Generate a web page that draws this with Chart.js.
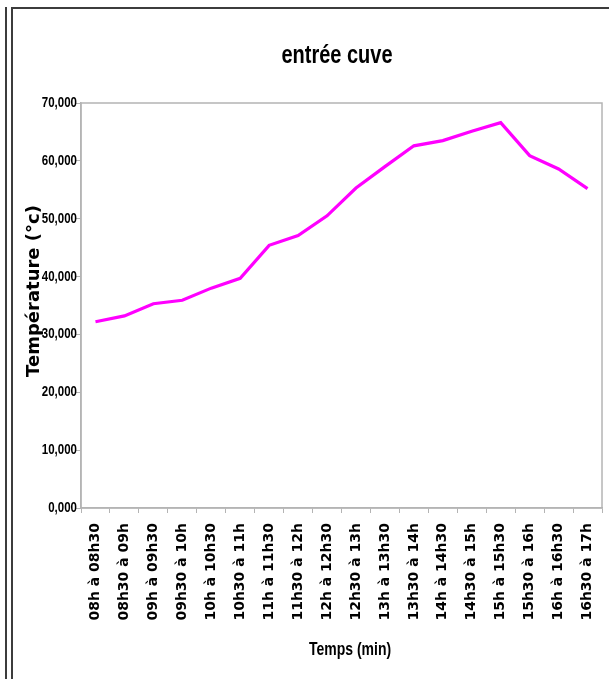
<!DOCTYPE html>
<html lang="fr">
<head>
<meta charset="utf-8">
<title>entrée cuve</title>
<script src="https://cdn.jsdelivr.net/npm/chart.js@4.4.1/dist/chart.umd.min.js"></script>
<style>
  html, body { margin: 0; padding: 0; background: #fff; }
  #wrap { width: 609px; height: 679px; position: relative; }
</style>
</head>
<body>
<div id="wrap"><canvas id="cuveChart" width="609" height="679"></canvas></div>
<script>
// tranches horaires (axe X)
const tranches = [
  '08h à 08h30', '08h30 à 09h', '09h à 09h30', '09h30 à 10h',
  '10h à 10h30', '10h30 à 11h', '11h à 11h30', '11h30 à 12h',
  '12h à 12h30', '12h30 à 13h', '13h à 13h30', '13h30 à 14h',
  '14h à 14h30', '14h30 à 15h', '15h à 15h30', '15h30 à 16h',
  '16h à 16h30', '16h30 à 17h'
];

// température en entrée de cuve (°c)
const temperatures = [
  32.2, 33.2, 35.3, 35.9, 38.0, 39.7, 45.4, 47.1, 50.5,
  55.3, 59.0, 62.6, 63.5, 65.1, 66.6, 60.9, 58.6, 55.2
];

// graduations de l'axe Y
const yTicks = [0, 10, 20, 30, 40, 50, 60, 70];
const yTickLabels = ['0,000', '10,000', '20,000', '30,000', '40,000', '50,000', '60,000', '70,000'];

const titre = 'entrée cuve';
const titreX = 'Temps (min)';
const titreY = 'Température (°c)';

const sans = "'Liberation Sans', Arial, sans-serif";
const wide = "'DejaVu Sans', 'Liberation Sans', Arial, sans-serif";
const axisGrey = '#b4b4b4';

// texte étiré verticalement (police haute et étroite)
function tallText(c, text, x, y, size, align, baseline) {
  c.save();
  c.font = 'bold ' + size + 'px ' + sans;
  c.fillStyle = '#000';
  c.textAlign = align;
  c.textBaseline = baseline;
  c.translate(x, y);
  c.scale(1, 1.25);
  c.fillText(text, 0, 0);
  c.restore();
}

// cadre de la page, bordure de la zone de tracé, titres et graduations Y
const framePlugin = {
  id: 'frame',
  beforeDraw(chart) {
    const c = chart.ctx;
    c.save();
    c.fillStyle = '#fff';
    c.fillRect(0, 0, chart.width, chart.height);
    c.fillStyle = '#3c3c3c';
    c.fillRect(5, 7, 2, chart.height - 7);
    c.fillRect(11, 7, 2, chart.height - 7);
    c.fillRect(11, 7, chart.width - 11, 2);
    c.restore();
  },
  beforeDatasetsDraw(chart) {
    const a = chart.chartArea;
    const c = chart.ctx;
    c.save();
    c.strokeStyle = axisGrey;
    c.lineWidth = 1.5;
    c.strokeRect(a.left, a.top, a.right - a.left, a.bottom - a.top);
    c.restore();
  },
  afterDraw(chart) {
    const c = chart.ctx;
    const y = chart.scales.y;
    tallText(c, titre, 337, 63, 20, 'center', 'alphabetic');
    tallText(c, titreX, 350, 655, 14, 'center', 'alphabetic');
    yTicks.forEach((v, i) => {
      tallText(c, yTickLabels[i], y.right - 4, y.getPixelForValue(v), 11.5, 'right', 'middle');
    });
    c.save();
    c.font = 'bold 18px ' + wide;
    c.fillStyle = '#000';
    c.textAlign = 'center';
    c.textBaseline = 'alphabetic';
    c.translate(39, 291);
    c.rotate(-Math.PI / 2);
    c.fillText(titreY, 0, 0);
    c.restore();
  }
};

const ctx = document.getElementById('cuveChart').getContext('2d');
new Chart(ctx, {
  type: 'line',
  data: {
    labels: tranches,
    datasets: [{
      label: titre,
      data: temperatures,
      borderColor: '#ff00ff',
      backgroundColor: '#ff00ff',
      borderWidth: 3.2,
      pointRadius: 0,
      tension: 0,
      fill: false
    }]
  },
  options: {
    responsive: false,
    animation: false,
    layout: { padding: { left: 0, right: 7, top: 103, bottom: 0 } },
    plugins: {
      legend: { display: false },
      tooltip: { enabled: false },
      title: { display: false }
    },
    scales: {
      x: {
        offset: true,
        grid: {
          display: true,
          offset: true,
          drawOnChartArea: false,
          drawTicks: true,
          tickLength: 5,
          color: axisGrey
        },
        border: { display: true, color: axisGrey, width: 1.5 },
        ticks: {
          autoSkip: false,
          maxRotation: 90,
          minRotation: 90,
          padding: 10,
          color: '#000',
          font: { family: wide, size: 14, weight: 'bold' }
        },
        afterFit(scale) {
          scale.height = 171;
          scale.paddingLeft = 0;
          scale.paddingRight = 0;
        }
      },
      y: {
        min: 0,
        max: 70,
        grid: {
          display: true,
          drawOnChartArea: false,
          drawTicks: true,
          tickLength: 5,
          color: axisGrey
        },
        border: { display: true, color: axisGrey, width: 1.5 },
        afterBuildTicks(scale) {
          scale.ticks = yTicks.map(v => ({ value: v }));
        },
        ticks: { display: false },
        afterFit(scale) {
          scale.width = 81;
          scale.paddingTop = 0;
          scale.paddingBottom = 0;
        }
      }
    }
  },
  plugins: [framePlugin]
});
</script>
</body>
</html>
